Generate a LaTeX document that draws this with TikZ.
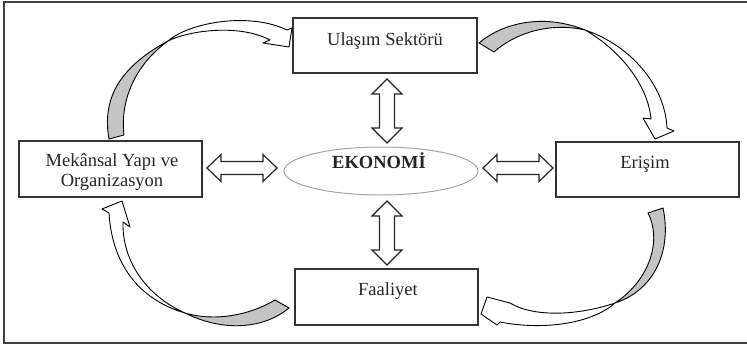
\documentclass[tikz,border=0pt]{standalone}
\usepackage{fontspec}
\setmainfont{Liberation Serif}
\usetikzlibrary{shapes.geometric}
\definecolor{gfill}{HTML}{C4C4C4}
\definecolor{txt}{HTML}{262626}
\begin{document}
\begin{tikzpicture}[x=1pt,y=-1pt,
  box/.style={draw=black!80, line width=1.3pt, fill=white, inner sep=0pt},
  lbl/.style={font=\fontsize{18.5}{21}\selectfont, text=txt, anchor=base, inner sep=0pt},
  lblb/.style={font=\fontsize{18.5}{21}\selectfont\bfseries, text=txt, anchor=base, inner sep=0pt},
  arrowline/.style={draw=black!85, line width=1.2pt, fill=white, line join=miter},
  curv/.style={draw=black, line width=0.9pt, line join=round},
  frame/.style={draw=black!75, line width=1.6pt},
  harrow/.pic={\path[arrowline] (-35,0) -- (-21,-13.5) -- (-21,-6.5) -- (21,-6.5) -- (21,-13.5) -- (35,0) -- (21,13.5) -- (21,6.5) -- (-21,6.5) -- (-21,13.5) -- cycle;},
  varrow/.pic={\path[arrowline] (0,-32) -- (15,-17) -- (7.5,-17) -- (7.5,17) -- (15,17) -- (0,32) -- (-15,17) -- (-7.5,17) -- (-7.5,-17) -- (-15,-17) -- cycle;}
]
\useasboundingbox (0,0) rectangle (747,348);
% frame (open on the right)
\draw[frame] (747,2) -- (4,2) -- (4,343) -- (747,343);

% boxes
\node[box, minimum width=184pt, minimum height=55pt] (u) at (385,45.5) {};
\node[box, minimum width=183pt, minimum height=56pt] (m) at (110.5,169) {};
\node[box, minimum width=183pt, minimum height=55pt] (e) at (647.5,169.5) {};
\node[box, minimum width=183pt, minimum height=56pt] (f) at (386.5,297) {};
\node[draw=black!35, line width=1pt, fill=white, ellipse, minimum width=194pt, minimum height=48pt, inner sep=0pt] (eco) at (381,171) {};

% texts
\node[lbl] (ut) at (385,45) {Ulaşım Sektörü};
\node[lbl] (mt1) at (112,166) {Mekânsal Yapı ve};
\node[lbl] (mt2) at (112,186) {Organizasyon};
\node[lbl] (et) at (645,168) {Erişim};
\node[lbl] (ft) at (388,295) {Faaliyet};
\node[lblb] (ecot) at (379,168) {EKONOMİ};

% straight double arrows
\pic (al) at (242,168) {harrow};
\pic (ar) at (518,168) {harrow};
\pic (vt) at (387,111) {varrow};
\pic (vb) at (387,233) {varrow};

% curved arrow 1: Mekansal -> Ulasim
\filldraw[curv, fill=gfill] (109,139) .. controls (102,100) and (118,68) .. (168,41) .. controls (135,65) and (120,100) .. (124,135) -- cycle;
\filldraw[curv, fill=white] (168,41) .. controls (190,22) and (250,12) .. (287,30) -- (292,28) -- (289,47) -- (263,43) -- (270,40) .. controls (240,24) and (190,30) .. (168,41) -- cycle;

% curved arrow 2: Ulasim -> Erisim
\filldraw[curv, fill=gfill] (479,43) .. controls (500,25) and (540,12) .. (585,30) .. controls (550,22) and (515,33) .. (494,52) -- cycle;
\filldraw[curv, fill=white] (585,30) .. controls (630,45) and (665,85) .. (667,128) -- (674,131) -- (655,139) -- (643,118) -- (651,119) .. controls (648,85) and (620,50) .. (585,30) -- cycle;

% curved arrow 3: Faaliyet -> Mekansal
\filldraw[curv, fill=gfill] (185,313) .. controls (215,322) and (250,315) .. (275,300) -- (289,308) .. controls (265,328) and (225,333) .. (185,313) -- cycle;
\filldraw[curv, fill=white] (185,313) .. controls (140,300) and (112,265) .. (109,213) -- (102,209) -- (122,201) -- (130,227) -- (123,222) .. controls (122,260) and (145,295) .. (185,313) -- cycle;

% curved arrow 4: Erisim -> Faaliyet
\filldraw[curv, fill=gfill] (648,213) .. controls (662,240) and (650,280) .. (615,303) .. controls (655,290) and (672,250) .. (663,208) -- cycle;
\filldraw[curv, fill=white] (615,303) .. controls (590,325) and (540,330) .. (500,322) -- (497,325) -- (481,314) -- (487,297) -- (510,303) .. controls (535,318) and (580,315) .. (615,303) -- cycle;
\end{tikzpicture}
\end{document}
